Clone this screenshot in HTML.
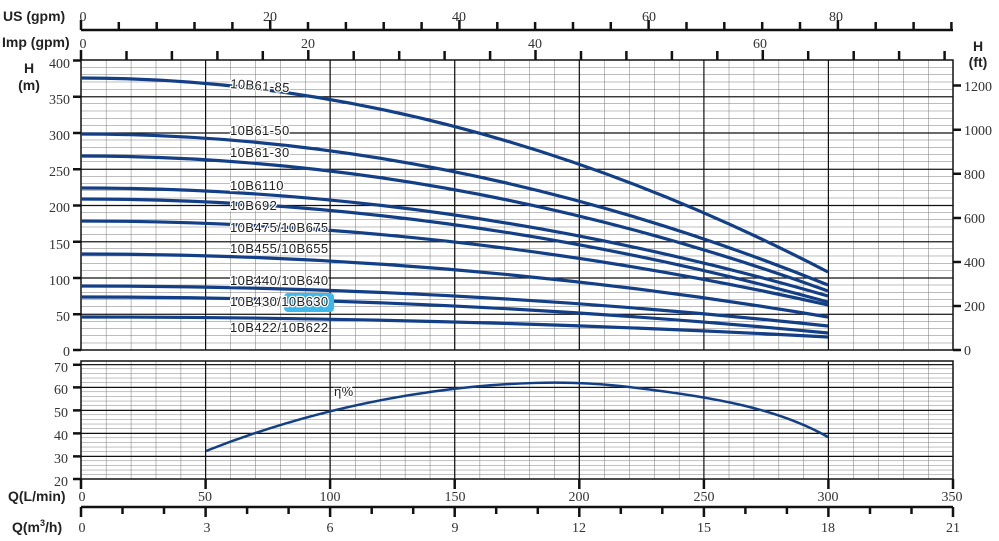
<!DOCTYPE html>
<html><head><meta charset="utf-8"><style>
body{margin:0;background:#fff;}
svg{display:block;}
.n{font-family:"Liberation Serif",serif;font-size:14px;fill:#333;}
.b{font-family:"Liberation Sans",sans-serif;font-size:14px;font-weight:bold;fill:#222;}
.l{font-family:"Liberation Sans",sans-serif;font-size:13px;fill:#222;paint-order:stroke;stroke:#fff;stroke-width:2.5px;letter-spacing:0.4px;}
.c{fill:none;stroke:#123f86;stroke-width:3.2;}
</style></head><body>
<svg width="999" height="541" viewBox="0 0 999 541" xmlns="http://www.w3.org/2000/svg">
<defs>
<pattern id="pt" x="81" y="60" width="24.914" height="7.25" patternUnits="userSpaceOnUse">
<path d="M0 0V7.25M0 0H24.914" stroke="#777" stroke-width="1" fill="none"/></pattern>
<pattern id="pb" x="81" y="479" width="24.914" height="4.6" patternUnits="userSpaceOnUse">
<path d="M0 0V4.6M0 0H24.914" stroke="#777" stroke-width="1" fill="none"/></pattern>
</defs>
<rect x="81" y="60" width="872" height="290" fill="url(#pt)"/>
<g stroke="#111" stroke-width="1.2">
<path d="M81 96.8H953M81 133H953M81 169.3H953M81 205.5H953M81 241.8H953M81 278H953M81 314.3H953"/>
<path d="M205.6 60V350M330.1 60V350M454.7 60V350M579.3 60V350M703.9 60V350M828.4 60V350"/>
</g>
<rect x="81" y="60" width="872" height="290" fill="none" stroke="#111" stroke-width="1.5"/>
<rect x="81" y="361" width="872" height="118" fill="url(#pb)"/>
<g stroke="#111" stroke-width="1.2">
<path d="M81 364.7H953M81 387.4H953M81 410.4H953M81 433.4H953M81 456.4H953"/>
<path d="M205.6 361V479M330.1 361V479M454.7 361V479M579.3 361V479M703.9 361V479M828.4 361V479"/>
</g>
<rect x="81" y="361" width="872" height="118" fill="none" stroke="#111" stroke-width="1.5"/>
<g stroke="#111" stroke-width="2.5">
<path d="M73 60.5H81M73 96.8H81M73 133H81M73 169.3H81M73 205.5H81M73 241.8H81M73 278H81M73 314.3H81M73 350H81"/>
<path d="M73 364.7H81M73 387.4H81M73 410.4H81M73 433.4H81M73 456.4H81M73 479H81"/>
<path d="M953 350H961M953 306H961M953 262H961M953 218H961M953 173.8H961M953 129.7H961M953 85.5H961"/>
</g>
<g class="n" text-anchor="end">
<text x="70" y="68">400</text><text x="70" y="104">350</text><text x="70" y="140">300</text><text x="70" y="176">250</text><text x="70" y="212">200</text><text x="70" y="249">150</text><text x="70" y="285">100</text><text x="70" y="321">50</text><text x="70" y="356">0</text>
<text x="68" y="372">70</text><text x="68" y="394">60</text><text x="68" y="417">50</text><text x="68" y="440">40</text><text x="68" y="463">30</text><text x="68" y="486">20</text>
</g>
<g class="n">
<text x="964" y="355">0</text><text x="964" y="311">200</text><text x="964" y="267">400</text><text x="964" y="223">600</text><text x="964" y="179">800</text><text x="964" y="135">1000</text><text x="964" y="91">1200</text>
</g>
<g stroke="#111" stroke-width="2.5" fill="none">
<path d="M81 30H953"/>
<path d="M81 20V30M118.8 22V30M156.7 22V30M194.5 22V30M232.4 22V30M270.2 20V30M308 22V30M345.9 22V30M383.7 22V30M421.6 22V30M459.4 20V30M497.3 22V30M535.1 22V30M573 22V30M610.8 22V30M648.6 20V30M686.5 22V30M724.3 22V30M762.2 22V30M800 22V30M837.9 20V30M875.7 22V30M913.6 22V30M951.4 22V30"/>
<path d="M81 50V60M126.5 51V60M171.9 51V60M217.4 51V60M262.8 51V60M308.3 50V60M353.7 51V60M399.2 51V60M444.6 51V60M490.1 51V60M535.5 50V60M581 51V60M626.4 51V60M671.9 51V60M717.3 51V60M762.8 50V60M808.2 51V60M853.7 51V60M899.1 51V60M944.6 51V60"/>
</g>
<g class="n" text-anchor="middle">
<text x="83" y="21">0</text><text x="270" y="21">20</text><text x="459" y="21">40</text><text x="649" y="21">60</text><text x="836" y="21">80</text>
<text x="83" y="48">0</text><text x="308" y="48">20</text><text x="535" y="48">40</text><text x="760" y="48">60</text>
</g>
<text class="b" x="3" y="21">US (gpm)</text>
<text class="b" x="2" y="47">Imp (gpm)</text>
<text class="b" x="29" y="73" text-anchor="middle">H</text>
<text class="b" x="29" y="90" text-anchor="middle">(m)</text>
<text class="b" x="978" y="51" text-anchor="middle">H</text>
<text class="b" x="978" y="67" text-anchor="middle" font-size="13">(ft)</text>
<g stroke="#111" stroke-width="2.5" fill="none">
<path d="M81 479V489M205.6 479V489M330.1 479V489M454.7 479V489M579.3 479V489M703.9 479V489M828.4 479V489M953 479V489"/>
<path d="M81 507H953"/>
<path d="M81 507V517M122.5 507V514M164 507V514M205.6 507V517M247.1 507V514M288.6 507V514M330.1 507V517M371.7 507V514M413.2 507V514M454.7 507V517M496.2 507V514M537.8 507V514M579.3 507V517M620.8 507V514M662.3 507V514M703.9 507V517M745.4 507V514M786.9 507V514M828.4 507V517M870 507V514M911.5 507V514M953 507V517"/>
</g>
<g class="n" text-anchor="middle">
<text x="82" y="501">0</text><text x="205" y="501">50</text><text x="330" y="501">100</text><text x="455" y="501">150</text><text x="579" y="501">200</text><text x="704" y="501">250</text><text x="828" y="501">300</text><text x="952" y="501">350</text>
<text x="82" y="532">0</text><text x="207" y="532">3</text><text x="330" y="532">6</text><text x="455" y="532">9</text><text x="579" y="532">12</text><text x="704" y="532">15</text><text x="828" y="532">18</text><text x="953" y="532">21</text>
</g>
<text class="b" x="8" y="501">Q(L/min)</text>
<text class="b" x="12" y="532">Q(m<tspan font-size="9" dy="-6">3</tspan><tspan dy="6">/h)</tspan></text>
<g class="c">
<path d="M81 78Q454.5 78 828 272"/>
<path d="M81 134Q454.5 134 828 285"/>
<path d="M81 156Q454.5 156 828 291"/>
<path d="M81 188Q454.5 188 828 296"/>
<path d="M81 199Q454.5 199 828 302"/>
<path d="M81 221Q454.5 221 828 305"/>
<path d="M81 254Q454.5 254 828 317"/>
<path d="M81 286Q454.5 286 828 326"/>
<path d="M81 297Q454.5 297 828 333"/>
<path d="M81 317Q454.5 317 828 337"/>
<path d="M206 451C360 390 520 375 620 386C720 397 780 410 828 437" stroke-width="2.5"/>
</g>
<rect x="284" y="293" width="50" height="19" rx="4" fill="#3cb9ea"/>
<g class="l">
<text x="230" y="88" transform="rotate(4 230 88)">10B61-85</text>
<text x="230" y="135">10B61-50</text>
<text x="230" y="157">10B61-30</text>
<text x="230" y="190">10B6110</text>
<text x="230" y="210">10B692</text>
<text x="230" y="232">10B475/10B675</text>
<text x="230" y="253">10B455/10B655</text>
<text x="230" y="285">10B440/10B640</text>
<text x="230" y="306">10B430/10B630</text>
<text x="230" y="332">10B422/10B622</text>
<text x="334" y="396">η%</text>
</g>
</svg>
</body></html>
